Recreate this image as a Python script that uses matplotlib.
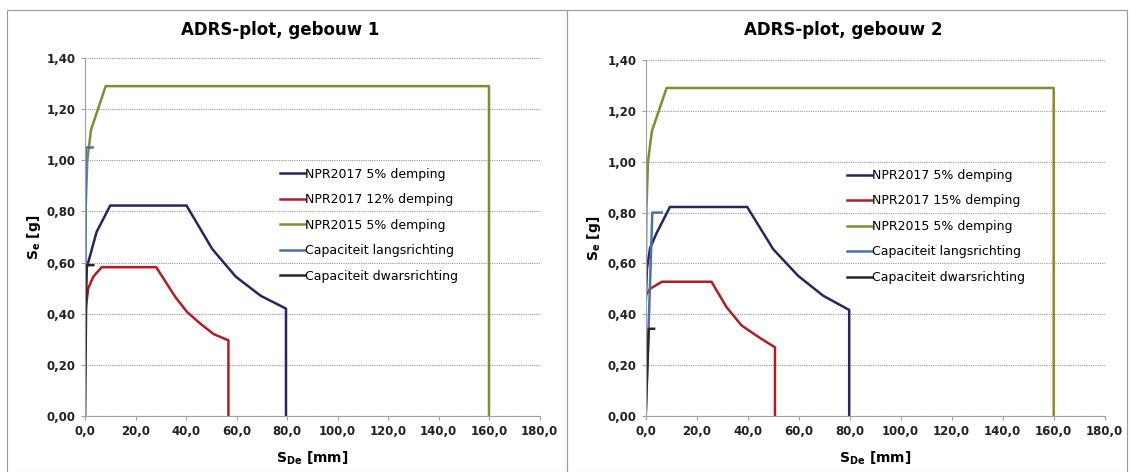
import matplotlib.pyplot as plt
from matplotlib.patches import Rectangle
from matplotlib.ticker import FuncFormatter, MultipleLocator

# gebouw 1
g1_npr17_5_x = [0, 0.7, 4.6, 10.0, 40.2, 50.4, 59.7, 69.6, 79.6, 79.6]
g1_npr17_5_y = [0.45, 0.58, 0.72, 0.823, 0.823, 0.653, 0.545, 0.47, 0.42, 0.0]
g1_npr17_d_x = [0, 1.3, 3.3, 6.6, 28.2, 35.8, 40.4, 45.8, 51.0, 56.8, 56.8]
g1_npr17_d_y = [0.40, 0.50, 0.545, 0.582, 0.582, 0.465, 0.407, 0.36, 0.32, 0.296, 0.0]
g1_langs_x = [0, 0.3, 3.0]
g1_langs_y = [0, 1.05, 1.05]
g1_dwars_x = [0, 0.6, 3.3]
g1_dwars_y = [0, 0.59, 0.59]

# gebouw 2
g2_npr17_5_x = [0, 0.5, 1.7, 4.3, 9.5, 39.8, 50.0, 59.8, 69.6, 79.8, 79.8]
g2_npr17_5_y = [0.45, 0.58, 0.66, 0.72, 0.822, 0.822, 0.656, 0.551, 0.473, 0.417, 0.0]
g2_npr17_d_x = [0, 0.1, 1.7, 6.3, 25.8, 31.7, 37.6, 44.8, 50.7, 50.7]
g2_npr17_d_y = [0.42, 0.476, 0.50, 0.528, 0.528, 0.428, 0.356, 0.307, 0.27, 0.0]
g2_langs_x = [0, 2.6, 6.3]
g2_langs_y = [0, 0.80, 0.80]
g2_dwars_x = [0, 1.2, 3.3]
g2_dwars_y = [0, 0.343, 0.343]

# NPR2015 5% demping, zelfde voor beide gebouwen
npr15_x = [0, 0.1, 0.3, 0.9, 2.4, 8.2, 160.0, 160.0]
npr15_y = [0.42, 0.62, 0.82, 1.0, 1.12, 1.29, 1.29, 0.0]

C_NAVY = "#24285e"
C_RED = "#b01e22"
C_OLIVE = "#858a34"
C_BLUE = "#4a72a8"
C_DARK = "#262626"

comma = FuncFormatter(lambda v, p: ("%.2f" % v).replace(".", ","))
comma1 = FuncFormatter(lambda v, p: ("%.1f" % v).replace(".", ","))


def make_panel(fig, rect, title, d_label, s5, sd, langs, dwars, title_x, leg_x):
    ax = fig.add_axes(rect)
    lw = 1.8
    ax.plot(s5[0], s5[1], color=C_NAVY, lw=lw, label="NPR2017 5% demping")
    ax.plot(sd[0], sd[1], color=C_RED, lw=lw, label=d_label)
    ax.plot(npr15_x, npr15_y, color=C_OLIVE, lw=lw, label="NPR2015 5% demping")
    ax.plot(langs[0], langs[1], color=C_BLUE, lw=lw, label="Capaciteit langsrichting")
    ax.plot(dwars[0], dwars[1], color=C_DARK, lw=lw, label="Capaciteit dwarsrichting")
    ax.set_xlim(0, 180)
    ax.set_ylim(0, 1.4)
    ax.xaxis.set_major_locator(MultipleLocator(20))
    ax.yaxis.set_major_locator(MultipleLocator(0.2))
    ax.xaxis.set_major_formatter(comma1)
    ax.yaxis.set_major_formatter(comma)
    ax.grid(axis="y", color="#9a9a9a", ls=(0, (1, 1)), lw=0.8)
    for s in ["top", "right"]:
        ax.spines[s].set_visible(False)
    for s in ["left", "bottom"]:
        ax.spines[s].set_color("#a0a0a0")
        ax.spines[s].set_linewidth(0.8)
    ax.tick_params(colors="#a0a0a0", length=3, width=0.8, labelcolor="#222222",
                   labelsize=8.5)
    for lab in ax.get_xticklabels() + ax.get_yticklabels():
        lab.set_fontweight("bold")
    ax.set_ylabel(r"$\mathbf{S_e}$ [g]", fontsize=10, fontweight="bold", labelpad=3)
    ax.set_xlabel(r"$\mathbf{S_{De}}$ [mm]", fontsize=10, fontweight="bold", labelpad=8)
    fig.text(title_x, 1 - 30 / 472, title, ha="center", va="center",
             fontsize=12, fontweight="bold")
    ax.legend(loc="upper left", bbox_to_anchor=(leg_x, 0.708), frameon=False,
              fontsize=9, handlelength=2.0, handletextpad=0.05,
              labelspacing=1.0, borderaxespad=0)
    return ax


fig = plt.figure(figsize=(11.3, 4.72), dpi=100)
fig.patches.append(Rectangle((7 / 1130, 0), 560 / 1130, 1 - 10 / 472,
                             transform=fig.transFigure, fill=False,
                             ec="#9a9a9a", lw=0.8))
fig.patches.append(Rectangle((567 / 1130, 0), 560 / 1130, 1 - 10 / 472,
                             transform=fig.transFigure, fill=False,
                             ec="#9a9a9a", lw=0.8))

make_panel(fig, [85 / 1130, 56 / 472, 454.5 / 1130, 358 / 472],
           "ADRS-plot, gebouw 1", "NPR2017 12% demping",
           (g1_npr17_5_x, g1_npr17_5_y), (g1_npr17_d_x, g1_npr17_d_y),
           (g1_langs_x, g1_langs_y), (g1_dwars_x, g1_dwars_y), 280 / 1130, 0.417)
make_panel(fig, [645.7 / 1130, 56 / 472, 459 / 1130, 356 / 472],
           "ADRS-plot, gebouw 2", "NPR2017 15% demping",
           (g2_npr17_5_x, g2_npr17_5_y), (g2_npr17_d_x, g2_npr17_d_y),
           (g2_langs_x, g2_langs_y), (g2_dwars_x, g2_dwars_y), 843 / 1130, 0.427)

fig.savefig("out.png", dpi=100)
